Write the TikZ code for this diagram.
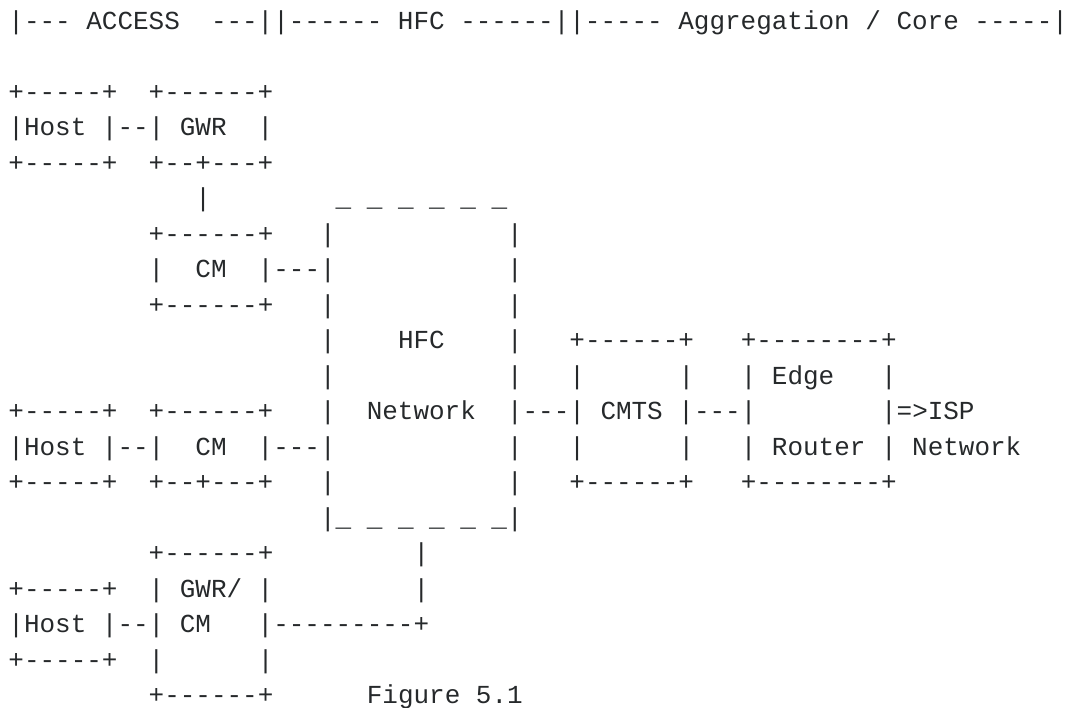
\documentclass[tikz,border=0pt]{standalone}
\usepackage{fontspec}
\usepackage{xcolor}
\newfontfamily\asciifont{Liberation Mono}
\definecolor{asciigray}{rgb}{0.15, 0.16, 0.17}
% blank run of #1 character cells
\newcommand{\pad}[1]{\hskip#1\fontdimen2\font\relax}

\begin{document}
\begin{tikzpicture}[x=11.685pt, y=-26.625pt,
    asciirow/.style={anchor=base west, inner sep=0pt, text=asciigray,
      font=\asciifont\fontsize{19.475pt}{24pt}\selectfont}]
    \useasboundingbox (-6.15pt,21.75pt) rectangle (795.6pt,-508.5pt);

    % Segment header
    \node (r0) [asciirow] at (0,0) {|---~ACCESS\pad{2}---||------~HFC~------||-----~Aggregation~/~Core~-----|};

    % Host and GWR
    \node (r2) [asciirow] at (0,2) {+-----+\pad{2}+------+};
    \node (r3) [asciirow] at (0,3) {|Host~|--|~GWR\pad{2}|};
    \node (r4) [asciirow] at (0,4) {+-----+\pad{2}+--+---+};
    \node (r5) [asciirow] at (0,5) {\pad{12}|\pad{8}\_~\_~\_~\_~\_~\_};

    % Upper CM and HFC cloud
    \node (r6) [asciirow] at (0,6) {\pad{9}+------+\pad{3}|\pad{11}|};
    \node (r7) [asciirow] at (0,7) {\pad{9}|\pad{2}CM\pad{2}|---|\pad{11}|};
    \node (r8) [asciirow] at (0,8) {\pad{9}+------+\pad{3}|\pad{11}|};

    % CMTS and edge router
    \node (r9) [asciirow] at (0,9) {\pad{20}|\pad{4}HFC\pad{4}|\pad{3}+------+\pad{3}+--------+};
    \node (r10) [asciirow] at (0,10) {\pad{20}|\pad{11}|\pad{3}|\pad{6}|\pad{3}|~Edge\pad{3}|};
    \node (r11) [asciirow] at (0,11) {+-----+\pad{2}+------+\pad{3}|\pad{2}Network\pad{2}|---|~CMTS~|---|\pad{8}|=>ISP};
    \node (r12) [asciirow] at (0,12) {|Host~|--|\pad{2}CM\pad{2}|---|\pad{11}|\pad{3}|\pad{6}|\pad{3}|~Router~|~Network};
    \node (r13) [asciirow] at (0,13) {+-----+\pad{2}+--+---+\pad{3}|\pad{11}|\pad{3}+------+\pad{3}+--------+};
    \node (r14) [asciirow] at (0,14) {\pad{20}|\_~\_~\_~\_~\_~\_|};

    % GWR/CM below
    \node (r15) [asciirow] at (0,15) {\pad{9}+------+\pad{9}|};
    \node (r16) [asciirow] at (0,16) {+-----+\pad{2}|~GWR/~|\pad{9}|};
    \node (r17) [asciirow] at (0,17) {|Host~|--|~CM\pad{3}|---------+};
    \node (r18) [asciirow] at (0,18) {+-----+\pad{2}|\pad{6}|};
    \node (r19) [asciirow] at (0,19) {\pad{9}+------+\pad{6}Figure~5.1};
\end{tikzpicture}
\end{document}
